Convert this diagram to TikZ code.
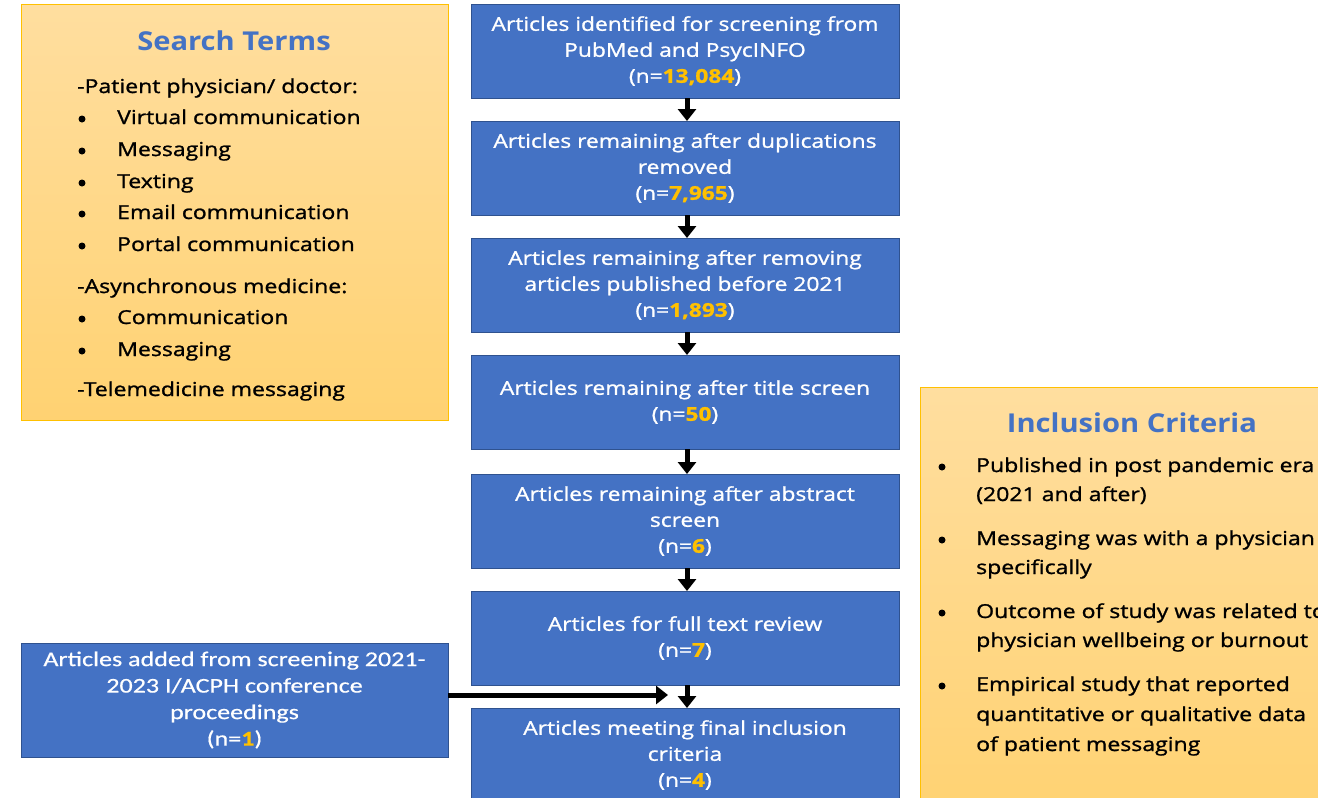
\documentclass[tikz,border=0pt]{standalone}
\usepackage{fontspec}
\setmainfont{Open Sans}[FakeStretch=1.12]
\newfontfamily\semib{Open Sans}[FakeBold=1.2, FakeStretch=1.2]
\newfontfamily\calfont{Carlito}[FakeBold=0.6, FakeStretch=1.24]
\usetikzlibrary{arrows.meta}
\definecolor{boxblue}{HTML}{4472C4}
\definecolor{boxedge}{HTML}{2F528F}
\definecolor{numor}{HTML}{FFC000}
\definecolor{ortop}{HTML}{FFDE9F}
\definecolor{orbot}{HTML}{FFD272}
\definecolor{oredge}{HTML}{FFC000}
\definecolor{titleblue}{HTML}{4472C4}
\newcommand\nval[1]{\textcolor{numor}{\bfseries #1}}
\tikzset{
  flowbox/.style={rectangle, fill=boxblue, draw=boxedge, line width=1pt,
    minimum width=428pt, minimum height=94pt, inner sep=0pt, outer sep=0pt,
    align=center, text=white, font=\semib\fontsize{19}{26}\selectfont},
  orbox/.style={rectangle, top color=ortop, bottom color=orbot, draw=oredge,
    line width=0.8pt, inner sep=0pt, outer sep=0pt},
  boxtitle/.style={text=titleblue, font=\bfseries\fontsize{26}{30}\selectfont},
  itemtext/.style={anchor=west, inner sep=0pt, text height=14pt, text depth=4pt,
    font=\semib\fontsize{19.2}{26}\selectfont},
  dot/.style={circle, fill=black, inner sep=0pt, minimum size=7pt},
  arr/.style={-{Triangle[width=18pt,length=12pt]}, line width=5pt},
}
\begin{document}
\begin{tikzpicture}[x=1pt,y=-1pt]
\useasboundingbox (0,0) rectangle (1318,798);
\clip (0,0) rectangle (1318,798);

% Search terms box
\node[orbox, minimum width=427pt, minimum height=416pt] (st) at (234.5,212) {};
\node[boxtitle] (sttitle) at (234,41) {Search Terms};
\node[itemtext] (s1) at (77,88) {-Patient physician/ doctor:};
\foreach \y/\t [count=\i] in {119/Virtual communication,151/Messaging,183/Texting,214/Email communication,246/Portal communication}{
  \node[dot] (sb\i) at (82,\y) {};
  \node[itemtext] (si\i) at (117,\y) {\t};
}
\node[itemtext] (s2) at (77,288) {-Asynchronous medicine:};
\foreach \y/\t [count=\i] in {319/Communication,351/Messaging}{
  \node[dot] (ab\i) at (82,\y) {};
  \node[itemtext] (ai\i) at (117,\y) {\t};
}
\node[itemtext] (s3) at (77,391) {-Telemedicine messaging};

% Inclusion criteria box
\node[orbox, minimum width=420pt, minimum height=430pt] (ic) at (1130,602) {};
\node[boxtitle] (ictitle) at (1132,423) {Inclusion Criteria};
\foreach \y [count=\i] in {467,540,613,686}{
  \node[dot] (cb\i) at (942,\y) {};
}
\node[itemtext] (c1a) at (976,467) {Published in post pandemic era};
\node[itemtext] (c1b) at (976,496) {(2021 and after)};
\node[itemtext] (c2a) at (976,540) {Messaging was with a physician};
\node[itemtext] (c2b) at (976,569) {specifically};
\node[itemtext] (c3a) at (976,613) {Outcome of study was related to};
\node[itemtext] (c3b) at (976,642) {physician wellbeing or burnout};
\node[itemtext] (c4a) at (976,686) {Empirical study that reported};
\node[itemtext] (c4b) at (976,716) {quantitative or qualitative data};
\node[itemtext] (c4c) at (976,746) {of patient messaging};

% Flow boxes
\node[flowbox] (b1) at (685,51) {Articles identified for screening from\\PubMed and PsycINFO\\(n=\nval{13,084})};
\node[flowbox] (b2) at (685,168) {Articles remaining after duplications\\removed\\(n=\nval{7,965})};
\node[flowbox] (b3) at (685,285) {Articles remaining after removing\\articles published before 2021\\(n=\nval{1,893})};
\node[flowbox] (b4) at (685,402) {Articles remaining after title screen\\(n=\nval{50})};
\node[flowbox] (b5) at (685,521) {Articles remaining after abstract\\screen\\(n=\nval{6})};
\node[flowbox] (b6) at (685,638) {Articles for full text review\\(n=\nval{7})};
\node[flowbox] (b7) at (685,755) {Articles meeting final inclusion\\criteria\\(n=\nval{4})};
\node[flowbox, minimum width=427pt, minimum height=114pt, font=\calfont\fontsize{21}{26.5}\selectfont] (lb) at (234.5,700) {Articles added from screening 2021-\\2023 I/ACPH conference\\proceedings\\(n=\nval{1})};

\foreach \a/\b in {b1/b2,b2/b3,b3/b4,b4/b5,b5/b6,b6/b7}{
  \draw[arr] ([xshift=2pt]\a.south) -- ([xshift=2pt]\b.north);
}
\coordinate (hend) at (668,695);
\draw[arr] (lb.east |- hend) -- (hend);
\end{tikzpicture}
\end{document}
